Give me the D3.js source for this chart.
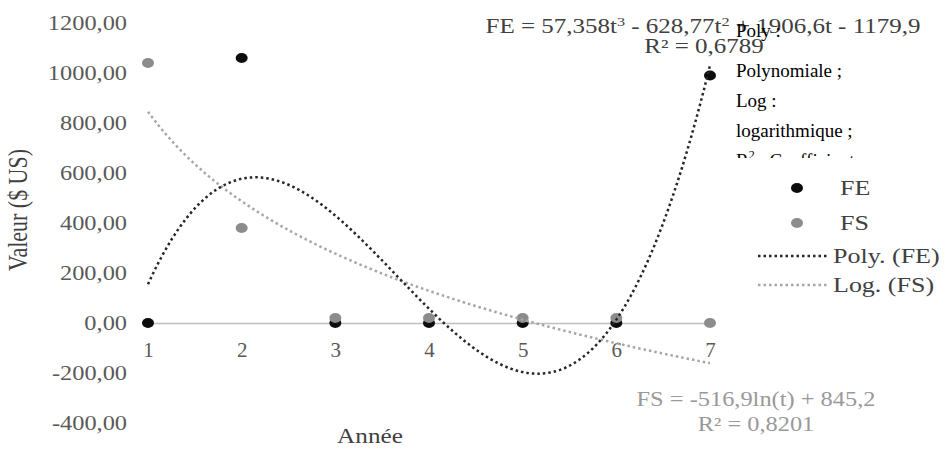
<!DOCTYPE html>
<meta charset="utf-8">
<style>
    body {
        margin: 0;
        background: #fff;
    }
    svg text {
        font-family: "Liberation Serif", "Times New Roman", serif;
    }
</style>

<body>
    <script src="https://d3js.org/d3.v7.min.js"></script>
    <script>
        // chart data
        var years = [1, 2, 3, 4, 5, 6, 7];
        var feValues = [0, 1060, 0, 0, 0, 0, 990];
        var fsValues = [1040, 380, 20, 20, 20, 20, 0];
        var yTicks = [-400, -200, 0, 200, 400, 600, 800, 1000, 1200];
        var polyCoef = [57.358, -628.77, 1906.6, -1179.9]; // t^3, t^2, t, 1
        var logCoef = [-516.9, 845.2]; // ln(t), 1
        var seriesNames = ["FE", "FS"];
        var trendNames = ["Poly. (FE)", "Log. (FS)"];
        var noteLines = ["Poly :", "Polynomiale ;", "Log :", "logarithmique ;", "R\u00b2 : Coefficient"];

        var width = 945,
            height = 449;

        var x = d3.scaleLinear().domain([1, 7]).range([148, 710]);
        var y = d3.scaleLinear().domain([-400, 1200]).range([423, 23]);

        var fr = d3.formatLocale({
            decimal: ",",
            thousands: "",
            grouping: [3],
            currency: ["", "$"],
            minus: "-"
        });
        var fmt = fr.format(".2f");

        var svg = d3.select("body").append("svg")
            .attr("width", width)
            .attr("height", height);

        // y axis labels only
        var yAxis = svg.append("g")
            .attr("transform", "translate(127,0)")
            .call(d3.axisLeft(y).tickValues(yTicks).tickFormat(fmt).tickSize(0).tickPadding(0));
        yAxis.select(".domain").remove();
        yAxis.selectAll("text")
            .attr("x", 0)
            .attr("transform", "scale(1.16,1)")
            .style("font-size", "21px")
            .style("fill", "#595959");

        // x axis on the zero line
        var xAxis = svg.append("g")
            .attr("transform", "translate(0," + y(0) + ")")
            .call(d3.axisBottom(x).tickValues(years).tickFormat(d3.format("d")).tickSize(0).tickSizeOuter(0));
        xAxis.select(".domain").attr("stroke", "#bfbfbf").attr("stroke-width", 1.5);
        xAxis.selectAll("text")
            .attr("y", 34)
            .attr("dy", 0)
            .style("font-size", "21px")
            .style("fill", "#595959");

        // axis titles
        svg.append("text")
            .attr("transform", "translate(27,210) scale(1.2,1) rotate(-90)")
            .attr("text-anchor", "middle")
            .style("font-size", "22px")
            .style("fill", "#404040")
            .text("Valeur ($ US)");

        svg.append("text")
            .attr("transform", "translate(370,443) scale(1.2,1)")
            .attr("text-anchor", "middle")
            .style("font-size", "21px")
            .style("fill", "#404040")
            .text("Année");

        var colors = { FE: "#0d0d0d", FS: "#8c8c8c" };
        var trendColors = { FE: "#262626", FS: "#a6a6a6" };

        // points
        svg.selectAll(".fe")
            .data(feValues)
            .enter().append("ellipse")
            .attr("class", "fe")
            .attr("cx", function(d, i) { return x(years[i]); })
            .attr("cy", function(d) { return y(d); })
            .attr("rx", 6)
            .attr("ry", 5)
            .style("fill", colors.FE);

        svg.selectAll(".fs")
            .data(fsValues)
            .enter().append("ellipse")
            .attr("class", "fs")
            .attr("cx", function(d, i) { return x(years[i]); })
            .attr("cy", function(d) { return y(d); })
            .attr("rx", 6)
            .attr("ry", 5)
            .style("fill", colors.FS);

        // trend lines from the displayed equations
        var ts = d3.range(1, 7.001, 0.05);
        function poly(t) {
            return polyCoef[0] * t * t * t + polyCoef[1] * t * t + polyCoef[2] * t + polyCoef[3];
        }
        function logf(t) {
            return logCoef[0] * Math.log(t) + logCoef[1];
        }
        var line = d3.line()
            .x(function(d) { return x(d[0]); })
            .y(function(d) { return y(d[1]); });

        svg.append("path")
            .datum(ts.map(function(t) { return [t, logf(t)]; }))
            .attr("d", line)
            .attr("fill", "none")
            .attr("stroke", trendColors.FS)
            .attr("stroke-width", 2.5)
            .attr("stroke-dasharray", "2.5,3");

        svg.append("path")
            .datum(ts.map(function(t) { return [t, poly(t)]; }))
            .attr("d", line)
            .attr("fill", "none")
            .attr("stroke", trendColors.FE)
            .attr("stroke-width", 2.5)
            .attr("stroke-dasharray", "2.5,3");

        // equations
        var eqFE = svg.append("text")
            .attr("transform", "translate(703,33) scale(1.25,1)")
            .attr("text-anchor", "middle")
            .style("font-size", "20px")
            .style("fill", "#404040");
        eqFE.append("tspan").text("FE = 57,358t");
        eqFE.append("tspan").text("3").attr("dy", -7).style("font-size", "13px");
        eqFE.append("tspan").text(" - 628,77t").attr("dy", 7);
        eqFE.append("tspan").text("2").attr("dy", -7).style("font-size", "13px");
        eqFE.append("tspan").text(" + 1906,6t - 1179,9").attr("dy", 7);

        svg.append("text")
            .attr("transform", "translate(704,53) scale(1.25,1)")
            .attr("text-anchor", "middle")
            .style("font-size", "20px")
            .style("fill", "#404040")
            .text("R\u00b2 = 0,6789");

        svg.append("text")
            .attr("transform", "translate(756,406) scale(1.22,1)")
            .attr("text-anchor", "middle")
            .style("font-size", "20px")
            .style("fill", "#999999")
            .text("FS = -516,9ln(t) + 845,2");

        svg.append("text")
            .attr("transform", "translate(756,431) scale(1.22,1)")
            .attr("text-anchor", "middle")
            .style("font-size", "20px")
            .style("fill", "#999999")
            .text("R\u00b2 = 0,8201");

        // legend
        var legend = svg.append("g");
        seriesNames.forEach(function(name, i) {
            var ly = 188 + i * 35;
            legend.append("ellipse")
                .attr("cx", 797)
                .attr("cy", ly)
                .attr("rx", 6)
                .attr("ry", 5)
                .style("fill", colors[name]);
            legend.append("text")
                .attr("transform", "translate(840," + (ly + 7) + ") scale(1.3,1)")
                .style("font-size", "20px")
                .style("fill", "#404040")
                .text(name);
        });
        trendNames.forEach(function(name, i) {
            var ly = 256 + i * 29;
            var key = seriesNames[i];
            legend.append("line")
                .attr("x1", 758)
                .attr("x2", 828)
                .attr("y1", ly)
                .attr("y2", ly)
                .attr("stroke", trendColors[key])
                .attr("stroke-width", 2.5)
                .attr("stroke-dasharray", "2.5,3");
            legend.append("text")
                .attr("transform", "translate(833," + (ly + 7) + ") scale(1.3,1)")
                .style("font-size", "20px")
                .style("fill", "#404040")
                .text(name);
        });

        // clipped note box laid over the chart
        svg.append("clipPath")
            .attr("id", "noteClip")
            .append("rect")
            .attr("x", 730)
            .attr("y", 15)
            .attr("width", 215)
            .attr("height", 143);

        var noteY = [37, 77, 107, 137, 167];
        var note = svg.append("g").attr("clip-path", "url(#noteClip)");
        note.selectAll("text")
            .data(noteLines)
            .enter().append("text")
            .attr("x", 736)
            .attr("y", function(d, i) { return noteY[i]; })
            .style("font-size", "19px")
            .style("fill", "#000")
            .each(function(d) {
                var t = d3.select(this);
                var parts = d.split("\u00b2");
                t.append("tspan").text(parts[0]);
                if (parts.length > 1) {
                    t.append("tspan").text("2").attr("dy", -8).style("font-size", "12px");
                    t.append("tspan").text(parts[1]).attr("dy", 8);
                }
            });
    </script>
</body>
